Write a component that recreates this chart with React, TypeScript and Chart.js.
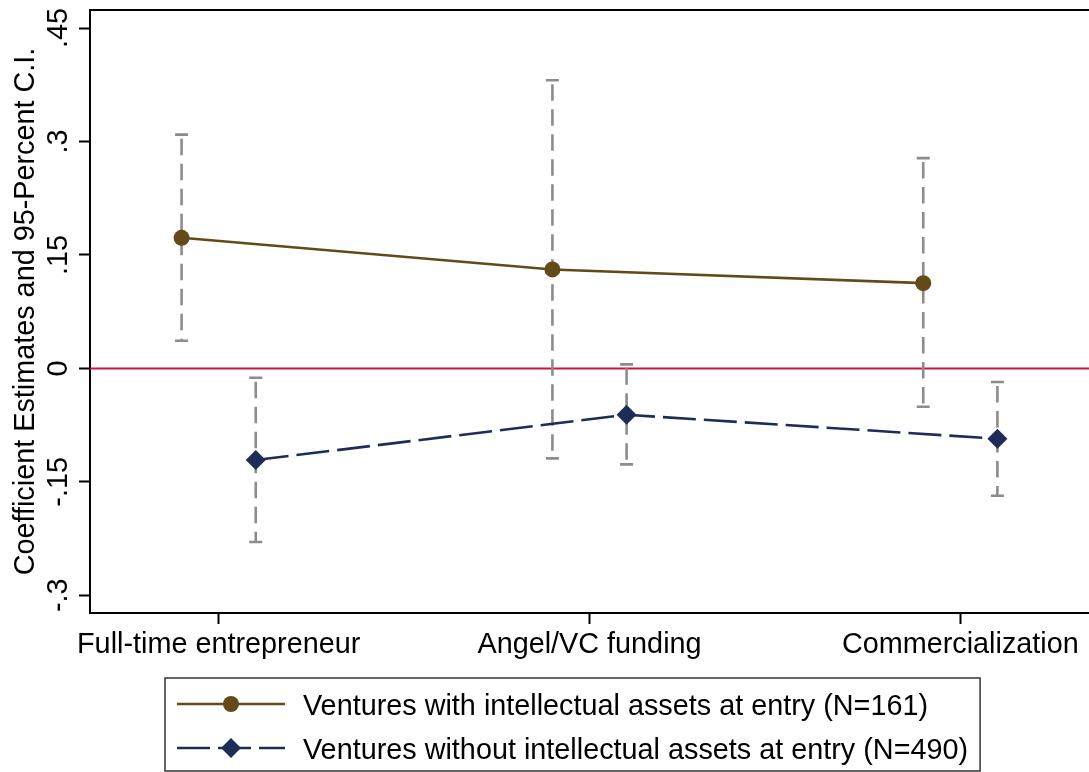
import React, { useEffect, useRef } from "react";
import { Chart, registerables } from "chart.js";

Chart.register(...registerables);

// ---------- data ----------
const categories = ["Full-time entrepreneur", "Angel/VC funding", "Commercialization"];
const seriesLabels = [
  "Ventures with intellectual assets at entry (N=161)",
  "Ventures without intellectual assets at entry (N=490)",
];
const withAssetsEstimate = [0.1726, 0.1308, 0.1127];
const withAssetsLower = [0.0365, -0.119, -0.0507];
const withAssetsUpper = [0.309, 0.381, 0.278];
const withoutAssetsEstimate = [-0.1212, -0.0613, -0.093];
const withoutAssetsLower = [-0.2295, -0.1269, -0.1684];
const withoutAssetsUpper = [-0.0124, 0.0053, -0.0181];
const yTickValues = [-0.3, -0.15, 0, 0.15, 0.3, 0.45];
const yTickLabels = ["-.3", "-.15", "0", ".15", ".3", ".45"];
const yAxisTitle = "Coefficient Estimates and 95-Percent C.I.";

// ---------- styles ----------
const FONT = "'Liberation Sans', Arial, Helvetica, sans-serif";
const FONT_SIZE = 28.8;
const BROWN = "#634A18";
const NAVY = "#1E2C58";
const CI_GRAY = "#8C8C8C";
const ZERO_RED = "#CC1040";
const SERIES_OFFSET = [-0.1, 0.1];
const W = 1089;
const H = 772;

const intervals = [
  { lower: withAssetsLower, upper: withAssetsUpper },
  { lower: withoutAssetsLower, upper: withoutAssetsUpper },
];

const decorPlugin = {
  id: "decor",
  beforeDatasetsDraw(chart: any) {
    const { ctx, chartArea, scales } = chart;
    const xs = scales.x;
    const ys = scales.y;
    ctx.save();
    // zero reference line
    const y0 = ys.getPixelForValue(0);
    ctx.strokeStyle = ZERO_RED;
    ctx.lineWidth = 2;
    ctx.beginPath();
    ctx.moveTo(chartArea.left, y0);
    ctx.lineTo(chartArea.right, y0);
    ctx.stroke();
    // confidence intervals
    intervals.forEach((iv, di) => {
      iv.lower.forEach((lo, i) => {
        const hi = iv.upper[i];
        const px = xs.getPixelForValue(i + SERIES_OFFSET[di]);
        const pLo = ys.getPixelForValue(lo);
        const pHi = ys.getPixelForValue(hi);
        ctx.strokeStyle = CI_GRAY;
        ctx.lineWidth = 2.6;
        ctx.setLineDash([16.5, 8.5]);
        ctx.lineDashOffset = -4;
        ctx.beginPath();
        ctx.moveTo(px, pHi);
        ctx.lineTo(px, pLo);
        ctx.stroke();
        ctx.setLineDash([]);
        ctx.beginPath();
        ctx.moveTo(px - 6.5, pHi);
        ctx.lineTo(px + 6.5, pHi);
        ctx.moveTo(px - 6.5, pLo);
        ctx.lineTo(px + 6.5, pLo);
        ctx.stroke();
      });
    });
    ctx.restore();
  },
  afterDraw(chart: any) {
    const { ctx, chartArea, scales } = chart;
    const ys = scales.y;
    ctx.save();
    // top border of plot region
    ctx.strokeStyle = "#000";
    ctx.lineWidth = 2;
    ctx.beginPath();
    ctx.moveTo(chartArea.left - 1, chartArea.top);
    ctx.lineTo(W, chartArea.top);
    ctx.stroke();

    ctx.fillStyle = "#000";
    ctx.font = `${FONT_SIZE}px ${FONT}`;
    ctx.textAlign = "center";
    ctx.textBaseline = "alphabetic";
    // y tick labels (rotated)
    yTickValues.forEach((v, i) => {
      const py = ys.getPixelForValue(v);
      ctx.save();
      ctx.translate(67, py);
      ctx.rotate(-Math.PI / 2);
      ctx.fillText(yTickLabels[i], 0, 0);
      ctx.restore();
    });
    // y axis title
    ctx.save();
    ctx.translate(34, (chartArea.top + chartArea.bottom) / 2);
    ctx.rotate(-Math.PI / 2);
    ctx.fillText(yAxisTitle, 0, 0);
    ctx.restore();

    // legend
    const rows = [704, 748];
    const sampleX0 = 177;
    const sampleX1 = 285;
    const markerX = 231;
    const textX = 303;
    ctx.textAlign = "left";
    const maxText = Math.max(...seriesLabels.map((s) => ctx.measureText(s).width));
    const boxL = 165;
    const boxT = 678;
    const boxB = 771;
    const boxR = textX + maxText + 12;
    ctx.strokeStyle = "#333";
    ctx.lineWidth = 1.5;
    ctx.strokeRect(boxL, boxT, boxR - boxL, boxB - boxT);

    chart.data.datasets.forEach((ds: any, di: number) => {
      const cy = rows[di];
      ctx.strokeStyle = ds.borderColor;
      ctx.lineWidth = ds.borderWidth;
      ctx.setLineDash(ds.borderDash || []);
      ctx.beginPath();
      ctx.moveTo(sampleX0, cy);
      ctx.lineTo(sampleX1, cy);
      ctx.stroke();
      ctx.setLineDash([]);
      ctx.fillStyle = ds.pointBackgroundColor;
      const r = ds.pointRadius;
      ctx.beginPath();
      if (ds.pointStyle === "rectRot") {
        ctx.moveTo(markerX - r, cy);
        ctx.lineTo(markerX, cy - r);
        ctx.lineTo(markerX + r, cy);
        ctx.lineTo(markerX, cy + r);
        ctx.closePath();
      } else {
        ctx.arc(markerX, cy, r, 0, Math.PI * 2);
      }
      ctx.fill();
      ctx.fillStyle = "#000";
      ctx.fillText(seriesLabels[di], textX, cy + 10.5);
    });
    ctx.restore();
  },
};

export default function App() {
  const ref = useRef<HTMLCanvasElement | null>(null);

  useEffect(() => {
    if (!ref.current) return;
    const chart = new Chart(ref.current, {
      type: "line",
      data: {
        datasets: [
          {
            label: seriesLabels[0],
            data: withAssetsEstimate.map((v, i) => ({ x: i + SERIES_OFFSET[0], y: v })),
            borderColor: BROWN,
            backgroundColor: BROWN,
            pointBackgroundColor: BROWN,
            pointBorderColor: BROWN,
            pointBorderWidth: 0,
            pointRadius: 8,
            pointStyle: "circle",
            borderWidth: 2.6,
            tension: 0,
            fill: false,
          },
          {
            label: seriesLabels[1],
            data: withoutAssetsEstimate.map((v, i) => ({ x: i + SERIES_OFFSET[1], y: v })),
            borderColor: NAVY,
            backgroundColor: NAVY,
            pointBackgroundColor: NAVY,
            pointBorderColor: NAVY,
            pointBorderWidth: 0,
            pointRadius: 10,
            pointStyle: "rectRot",
            borderWidth: 2.6,
            borderDash: [33, 8],
            tension: 0,
            fill: false,
          },
        ],
      },
      options: {
        animation: false,
        responsive: false,
        maintainAspectRatio: false,
        devicePixelRatio: 1,
        events: [],
        layout: { autoPadding: false, padding: { top: 10, left: 0, right: 0, bottom: 0 } },
        plugins: { legend: { display: false }, tooltip: { enabled: false }, title: { display: false } },
        scales: {
          x: {
            type: "linear",
            min: -0.347,
            max: 2.347,
            afterBuildTicks: (scale: any) => {
              scale.ticks = categories.map((_, i) => ({ value: i }));
            },
            afterFit: (scale: any) => {
              scale.height = H - 613;
              scale.paddingLeft = 0;
              scale.paddingRight = 0;
            },
            ticks: {
              autoSkip: false,
              maxRotation: 0,
              minRotation: 0,
              padding: 4,
              color: "#000",
              font: { family: FONT, size: FONT_SIZE },
              callback: (_v: any, i: number) => categories[i],
            },
            grid: {
              display: true,
              drawOnChartArea: false,
              drawTicks: true,
              tickLength: 11,
              tickWidth: 2,
              tickColor: "#000",
            },
            border: { display: true, color: "#000", width: 2 },
          },
          y: {
            type: "linear",
            min: -0.3234,
            max: 0.4738,
            afterBuildTicks: (scale: any) => {
              scale.ticks = yTickValues.map((v) => ({ value: v }));
            },
            afterFit: (scale: any) => {
              scale.width = 90;
            },
            ticks: { display: false },
            grid: {
              display: true,
              drawOnChartArea: false,
              drawTicks: true,
              tickLength: 11,
              tickWidth: 2,
              tickColor: "#000",
            },
            border: { display: true, color: "#000", width: 2 },
          },
        },
      },
      plugins: [decorPlugin],
    });
    return () => chart.destroy();
  }, []);

  return (
    <div style={{ position: "absolute", left: 0, top: 0, width: W, height: H, background: "#fff" }}>
      <canvas ref={ref} width={W} height={H} style={{ display: "block", width: W, height: H }} />
    </div>
  );
}
